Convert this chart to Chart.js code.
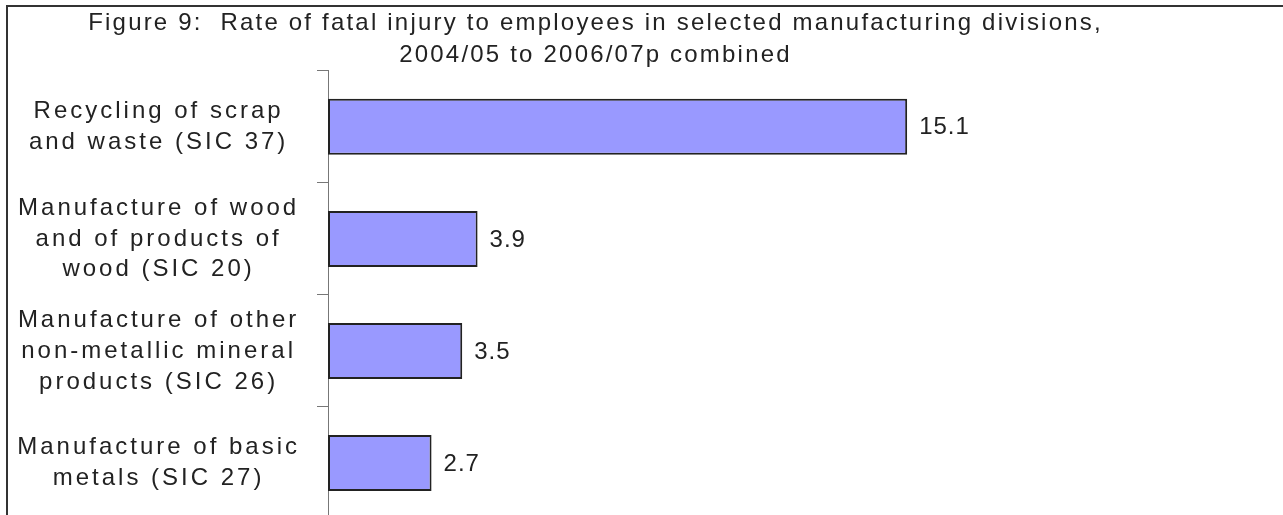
<!DOCTYPE html>
<html>
<head>
<meta charset="utf-8">
<script src="https://cdn.jsdelivr.net/npm/chart.js@4.4.1/dist/chart.umd.min.js"></script>
<style>
  html, body { margin: 0; padding: 0; background: #fff; overflow: hidden; }
  #frame { position: absolute; left: 6px; top: 5px; width: 1400px; height: 600px;
           border-left: 2px solid #333; border-top: 2px solid #333; pointer-events: none; }
  #chart { position: absolute; left: 0; top: 0; }
</style>
</head>
<body>
<canvas id="chart" width="1192" height="519"></canvas>
<div id="frame"></div>
<script>
var titleLines = ['Figure 9:  Rate of fatal injury to employees in selected manufacturing divisions,',
                  '2004/05 to 2006/07p combined'];
var categories = [
    ['Recycling of scrap', 'and waste (SIC 37)'],
    ['Manufacture of wood', 'and of products of', 'wood (SIC 20)'],
    ['Manufacture of other', 'non-metallic mineral', 'products (SIC 26)'],
    ['Manufacture of basic', 'metals (SIC 27)']
];
var rates = [15.1, 3.9, 3.5, 2.7];
var rateLabels = ['15.1', '3.9', '3.5', '2.7'];

Chart.defaults.font.family = '"Liberation Sans", Arial, sans-serif';
Chart.defaults.color = '#222';

// the original text is spread out, title a bit less than the axis labels
var spacing = {
    id: 'spacing',
    beforeLayout: function(chart) { chart.ctx.letterSpacing = '3px'; },
    afterLayout: function(chart) {
        var t = chart.titleBlock;
        if (t && !t._spaced) {
            var orig = t.draw;
            t.draw = function() {
                chart.ctx.letterSpacing = '2.2px';
                orig.apply(this, arguments);
                chart.ctx.letterSpacing = '3px';
            };
            t._spaced = true;
        }
    },
    beforeDraw: function(chart) { chart.ctx.letterSpacing = '3px'; }
};

var valueLabels = {
    id: 'valueLabels',
    afterDatasetsDraw: function(chart) {
        var ctx = chart.ctx;
        var meta = chart.getDatasetMeta(0);
        ctx.save();
        ctx.letterSpacing = '1px';
        ctx.font = '24px "Liberation Sans", Arial, sans-serif';
        ctx.fillStyle = '#222';
        ctx.textAlign = 'left';
        ctx.textBaseline = 'middle';
        meta.data.forEach(function(bar, i) {
            ctx.fillText(rateLabels[i], bar.x + 12, bar.y + 1);
        });
        ctx.restore();
    }
};

new Chart(document.getElementById('chart'), {
    type: 'bar',
    data: {
        labels: categories,
        datasets: [{
            data: rates,
            backgroundColor: '#9999ff',
            borderColor: '#222',
            borderWidth: 2,
            borderSkipped: false,
            categoryPercentage: 1.0,
            barPercentage: 0.5
        }]
    },
    options: {
        indexAxis: 'y',
        responsive: false,
        animation: false,
        layout: { padding: { left: 0, right: 1, top: 0, bottom: 0 } },
        plugins: {
            legend: { display: false },
            tooltip: { enabled: false },
            title: {
                display: true,
                text: titleLines,
                font: { size: 24, weight: 'normal', lineHeight: 1.33 },
                color: '#222',
                padding: { top: 7, bottom: 0 }
            }
        },
        scales: {
            x: {
                display: false,
                min: 0,
                max: 22.5
            },
            y: {
                afterFit: function(scale) {
                    scale.width = 328;
                    scale.paddingTop = 0;
                    scale.paddingBottom = 0;
                },
                border: { display: true, color: '#777', width: 1 },
                grid: {
                    display: true,
                    drawOnChartArea: false,
                    drawTicks: true,
                    tickLength: 11,
                    color: '#777',
                    offset: true
                },
                ticks: {
                    crossAlign: 'center',
                    padding: 17,
                    font: { size: 24, lineHeight: 1.29 },
                    color: '#222'
                }
            }
        }
    },
    plugins: [spacing, valueLabels]
});
</script>
</body>
</html>
